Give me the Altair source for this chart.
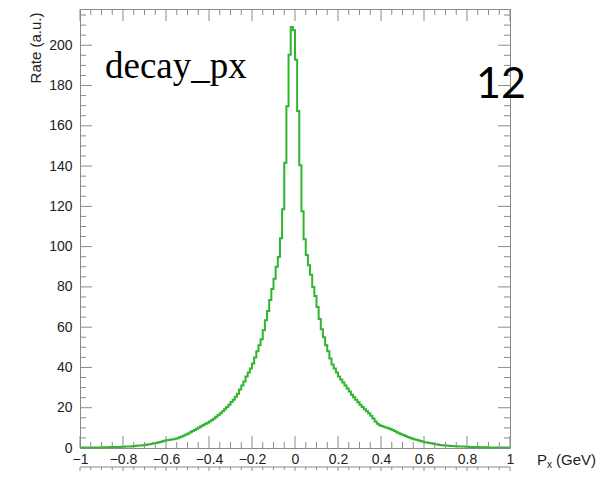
import altair as alt
import pandas as pd

# Histogram contents, bins of width 0.01 from -1 to 1 (left edges -1.00 ... 0.99)
neg_vals = [
    0.2, 0.2, 0.2, 0.2, 0.2, 0.25, 0.25, 0.3, 0.3, 0.3,
    0.35, 0.35, 0.4, 0.4, 0.45, 0.45, 0.5, 0.5, 0.55, 0.6,
    0.6, 0.7, 0.7, 0.8, 0.9, 1.0, 1.1, 1.2, 1.3, 1.4,
    1.5, 1.7, 1.9, 2.1, 2.3, 2.5, 2.7, 3.0, 3.3, 3.6,
    3.8, 4.0, 4.2, 4.4, 4.6, 4.9, 5.3, 5.7, 6.2, 6.7,
    7.2, 7.8, 8.4, 9.0, 9.6, 10.2, 10.8, 11.4, 12.0, 12.6,
    13.2, 13.9, 14.6, 15.5, 16.4, 17.3, 18.2, 19.2, 20.3, 21.5,
    22.8, 24.0, 25.5, 27.0, 29.0, 31.0, 33.0, 35.5, 37.5, 39.5,
    42.0, 45.0, 48.0, 51.0, 54.0, 58.5, 63.5, 68.0, 73.5, 79.0,
    84.0, 90.0, 94.9, 104.2, 118.6, 141.6, 169.7, 195.3, 209.0, 207.5,
]
pos_vals = [
    192.8, 167.4, 140.4, 117.6, 103.7, 95.8, 90.8, 86.0, 80.0, 75.5,
    70.0, 64.0, 59.0, 55.0, 51.0, 48.0, 44.5, 41.5, 39.5, 37.5,
    35.5, 34.0, 32.5, 31.0, 29.5, 28.0, 26.5, 25.2, 24.0, 22.7,
    21.5, 20.3, 19.3, 18.3, 17.3, 16.0, 14.6, 13.2, 12.0, 11.3,
    10.9, 10.6, 10.2, 9.8, 9.4, 8.9, 8.4, 7.8, 7.3, 6.8,
    6.4, 5.9, 5.5, 5.1, 4.7, 4.4, 4.1, 3.8, 3.5, 3.2,
    2.9, 2.7, 2.5, 2.3, 2.1, 1.9, 1.7, 1.55, 1.4, 1.3,
    1.2, 1.1, 1.0, 0.95, 0.9, 0.85, 0.8, 0.75, 0.7, 0.65,
    0.6, 0.55, 0.5, 0.5, 0.45, 0.45, 0.4, 0.4, 0.35, 0.35,
    0.3, 0.3, 0.3, 0.25, 0.25, 0.25, 0.2, 0.2, 0.2, 0.2,
]

x_major = [-1, -0.8, -0.6, -0.4, -0.2, 0, 0.2, 0.4, 0.6, 0.8, 1]
x_minor = [-0.95, -0.9, -0.85, -0.75, -0.7, -0.65, -0.55, -0.5, -0.45,
           -0.35, -0.3, -0.25, -0.15, -0.1, -0.05, 0.05, 0.1, 0.15,
           0.25, 0.3, 0.35, 0.45, 0.5, 0.55, 0.65, 0.7, 0.75, 0.85, 0.9, 0.95]
y_major = [0, 20, 40, 60, 80, 100, 120, 140, 160, 180, 200]
y_minor = [5, 10, 15, 25, 30, 35, 45, 50, 55, 65, 70, 75, 85, 90, 95,
           105, 110, 115, 125, 130, 135, 145, 150, 155, 165, 170, 175,
           185, 190, 195, 205, 210, 215]

counts = neg_vals + pos_vals
edges = [round(-1 + 0.01 * i, 2) for i in range(len(counts) + 1)]
hist = pd.DataFrame({"px": edges, "rate": counts + [counts[-1]]})

W, H = 430, 439
GREEN = "#2fb52f"
FRAME = "#8a8a8a"
LABEL = "#222222"
SANS = "Liberation Sans"

xs = alt.Scale(domain=[-1, 1], nice=False, zero=False)
ys = alt.Scale(domain=[0, 218], nice=False, zero=False)

X_AXIS = alt.Axis(
    values=x_major, title=None, ticks=False, domain=False, grid=False,
    labelFlush=False, labelOverlap=False, labelPadding=4,
    labelFont=SANS, labelFontSize=14, labelColor=LABEL,
    labelExpr="format(datum.value, '~g')")
Y_AXIS = alt.Axis(
    values=y_major, title=None, ticks=False, domain=False, grid=False,
    labelOverlap=False, labelPadding=8,
    labelFont=SANS, labelFontSize=14, labelColor=LABEL)

line = alt.Chart(hist).mark_line(
    interpolate="step-after", color=GREEN, strokeWidth=2
).encode(
    x=alt.X("px:Q", scale=xs, axis=X_AXIS),
    y=alt.Y("rate:Q", scale=ys, axis=Y_AXIS),
)

def xticks(vals, length, y0=None, down=False):
    df = pd.DataFrame({"v": vals})
    base = alt.Chart(df).mark_rule(color=FRAME, strokeWidth=1)
    enc_x = alt.X("v:Q", scale=xs, axis=X_AXIS)
    if y0 is not None:
        return [base.encode(x=enc_x, y=alt.value(y0), y2=alt.value(y0 + length))]
    bottom = base.encode(x=enc_x, y=alt.value(H), y2=alt.value(H - length))
    top = base.encode(x=enc_x, y=alt.value(0), y2=alt.value(length))
    return [bottom, top]

def yticks(vals, length):
    df = pd.DataFrame({"v": vals})
    base = alt.Chart(df).mark_rule(color=FRAME, strokeWidth=1)
    enc_y = alt.Y("v:Q", scale=ys, axis=Y_AXIS)
    left = base.encode(y=enc_y, x=alt.value(0), x2=alt.value(length))
    right = base.encode(y=enc_y, x=alt.value(W), x2=alt.value(W - length))
    return [left, right]

def label(text, x, y, size, font, align="left", angle=0, color="#000000", baseline="alphabetic"):
    df = pd.DataFrame({"t": [text]})
    return alt.Chart(df).mark_text(
        align=align, baseline=baseline, font=font, fontSize=size,
        color=color, angle=angle
    ).encode(x=alt.value(x), y=alt.value(y), text="t:N")

# top frame of the next (cropped) panel below
next_frame = alt.Chart(pd.DataFrame({"t": [0]})).mark_rule(
    color=FRAME, strokeWidth=1
).encode(x=alt.value(0), x2=alt.value(W), y=alt.value(458))

layers = [line]
layers += xticks(x_major, 12) + xticks(x_minor, 6)
layers += yticks(y_major, 12) + yticks(y_minor, 6)
layers += xticks(x_major, 6, y0=458) + xticks(x_minor, 3, y0=458)
layers.append(next_frame)
layers.append(label("decay_px", 25, 69, 37, "Liberation Serif"))
layers.append(label("12", 421, 89, 43, "Lato", align="center"))
layers.append(label("Rate (a.u.)", -44, 39, 15, SANS, align="center",
                    angle=270, color=LABEL, baseline="middle"))
layers.append(label("P", 457, 456, 15, SANS, color=LABEL))
layers.append(label("x", 467, 459, 10, SANS, color=LABEL))
layers.append(label("(GeV)", 476, 456, 15, SANS, color=LABEL))

chart = alt.layer(*layers).properties(
    width=W, height=H,
    padding={"left": 72, "top": 1, "right": 97, "bottom": 23},
    autosize=alt.AutoSizeParams(type="none"),
    background="white",
).configure_view(stroke=FRAME, strokeWidth=1)

chart.save("out.html", embed_options={"renderer": "svg", "actions": False})
